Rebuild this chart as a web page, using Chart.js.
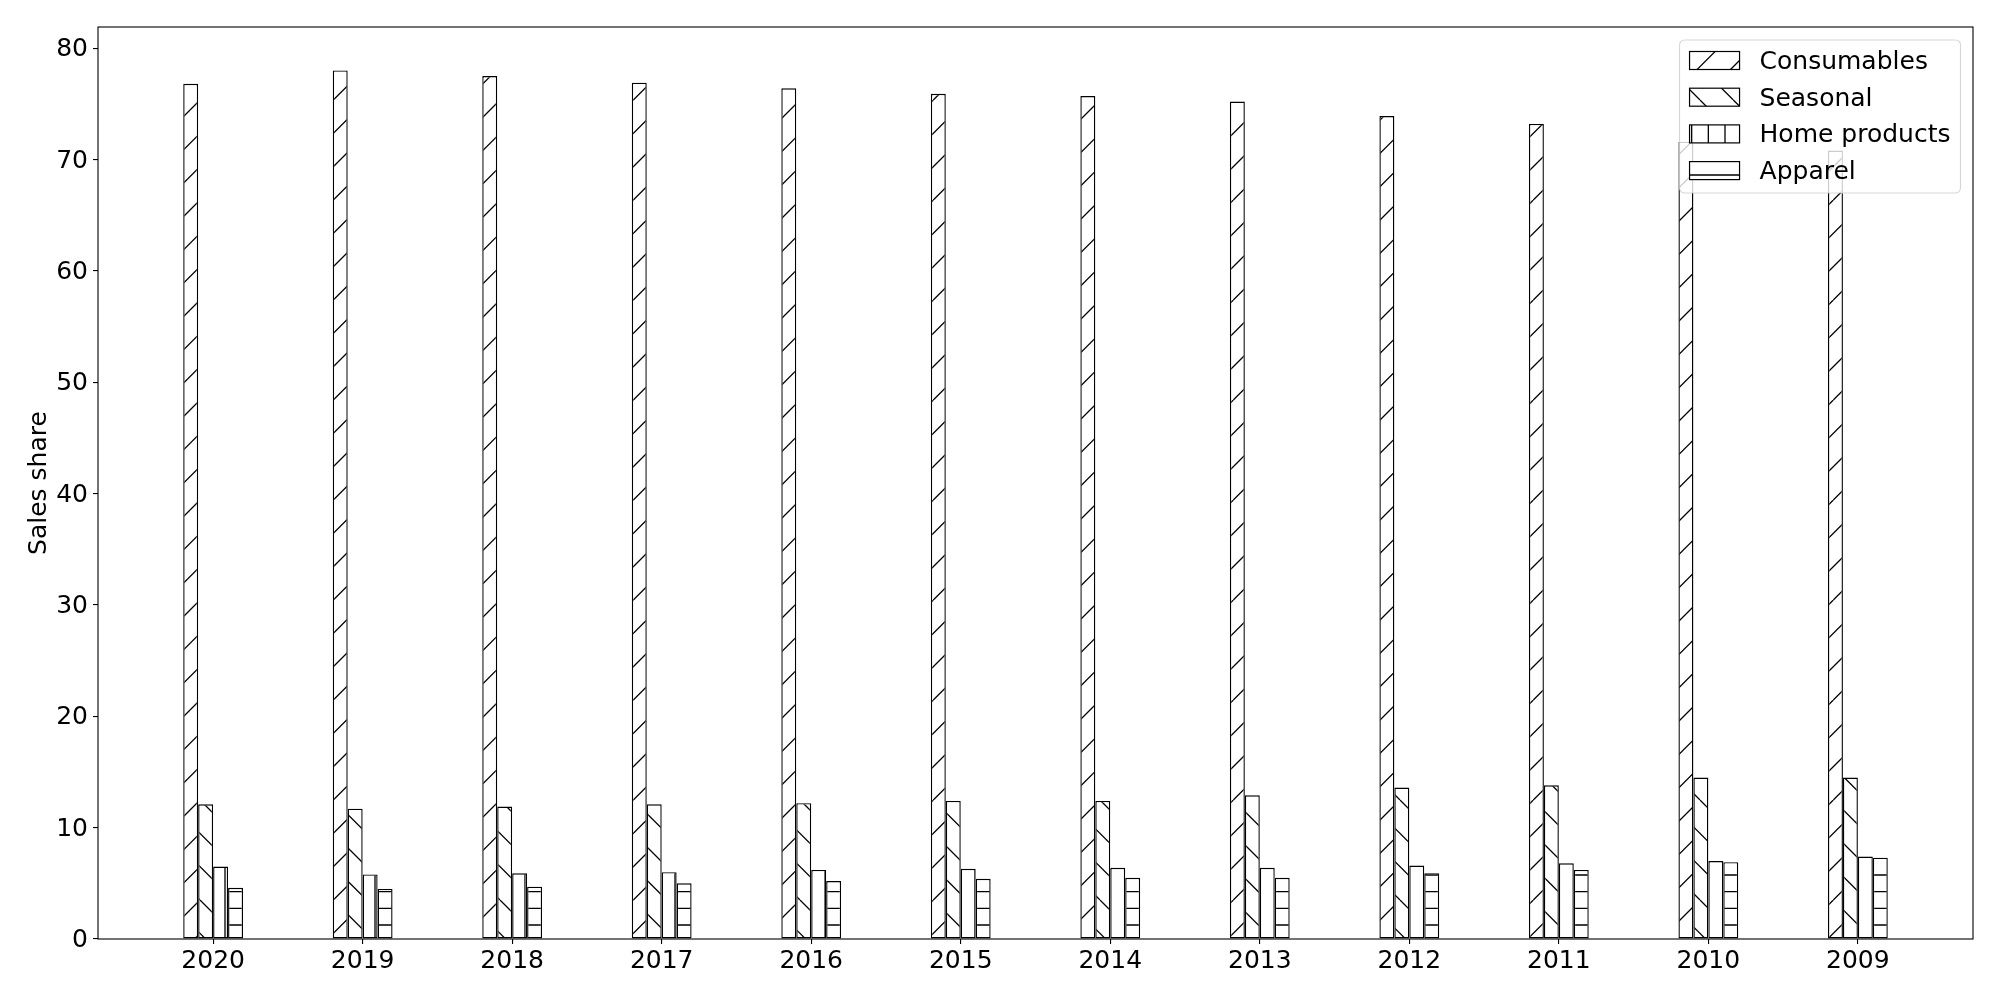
<!DOCTYPE html>
<html><head><meta charset="utf-8">
<script src="https://cdn.jsdelivr.net/npm/chart.js@4/dist/chart.umd.min.js"></script>
<style>html,body{margin:0;padding:0;background:#fff}#wrap{width:2000px;height:1000px}</style>
</head><body><div id="wrap"><canvas id="c" width="2000" height="1000"></canvas></div>
<script>
const years = ['2020','2019','2018','2017','2016','2015','2014','2013','2012','2011','2010','2009'];
const consumables = [76.8,78.0,77.5,76.9,76.4,75.9,75.7,75.2,73.9,73.2,71.6,70.8];
const seasonal = [12.1,11.7,11.9,12.1,12.2,12.4,12.4,12.9,13.6,13.8,14.5,14.5];
const homeProducts = [6.5,5.8,5.9,6.0,6.2,6.3,6.4,6.4,6.6,6.8,7.0,7.4];
const apparel = [4.6,4.5,4.7,5.0,5.2,5.4,5.5,5.5,5.9,6.2,6.9,7.3];
const seriesNames = ['Consumables','Seasonal','Home products','Apparel'];
const hatchKinds = ['/', '\\', '|', '-'];
const yTicks = [0,10,20,30,40,50,60,70,80];
const yAxisTitle = 'Sales share';

const FONT = {family: '"DejaVu Sans"', size: 25, lineHeight: 1.2};
Chart.defaults.font.family = '"DejaVu Sans"';
Chart.defaults.font.size = 25;
Chart.defaults.color = '#000';

function makeHatch(kind) {
  const t = document.createElement('canvas');
  t.width = 100; t.height = 100;
  const g = t.getContext('2d');
  g.fillStyle = '#fff'; g.fillRect(0, 0, 100, 100);
  g.strokeStyle = '#000'; g.lineWidth = 1.3;
  g.beginPath();
  const d = 100 / 3, s = 100 / 6;
  if (kind === '/') {
    for (let k = -3; k <= 9; k++) { const c = k * d; g.moveTo(c, 0); g.lineTo(c - 100, 100); }
  } else if (kind === '\\') {
    for (let k = -6; k <= 6; k++) { const c = k * d; g.moveTo(c, 0); g.lineTo(c + 100, 100); }
  } else if (kind === '|') {
    for (let k = 0; k < 6; k++) { const x = (k + 0.5) * s; g.moveTo(x, 0); g.lineTo(x, 100); }
  } else {
    for (let k = 0; k < 6; k++) { const y = (k + 0.5) * s; g.moveTo(0, y); g.lineTo(100, y); }
  }
  g.stroke();
  return document.getElementById('c').getContext('2d').createPattern(t, 'repeat');
}

const patterns = hatchKinds.map(makeHatch);
const seriesValues = [consumables, seasonal, homeProducts, apparel];

const datasets = seriesNames.map((name, si) => ({
  label: name,
  data: seriesValues[si].map((v, i) => ({x: i, y: v})),
  backgroundColor: patterns[si],
  borderColor: '#000',
  borderWidth: 1.4,
  borderSkipped: false,
  categoryPercentage: 0.4,
  barPercentage: 1.0
}));

const frameBox = {
  id: 'frameBox',
  afterDatasetsDraw(chart) {
    const {ctx, chartArea: a} = chart;
    ctx.save();
    ctx.strokeStyle = '#000';
    ctx.lineWidth = 1.1;
    ctx.strokeRect(a.left, a.top, a.right - a.left, a.bottom - a.top);
    ctx.restore();
  }
};

const mplLegend = {
  id: 'mplLegend',
  afterDraw(chart) {
    const {ctx, chartArea: a} = chart;
    const ds = chart.data.datasets;
    ctx.save();
    ctx.font = '25px "DejaVu Sans"';
    let maxW = 0;
    ds.forEach(d => { maxW = Math.max(maxW, ctx.measureText(d.label).width); });
    const pad = 10, handleW = 50, handleH = 18, textPad = 20, pitch = 36.7;
    const w = pad + handleW + textPad + maxW + pad;
    const h = 153;
    const right = a.right - 12.5, top = a.top + 13;
    const left = right - w;
    const r = 5;
    ctx.beginPath();
    ctx.moveTo(left + r, top);
    ctx.lineTo(right - r, top);
    ctx.arcTo(right, top, right, top + r, r);
    ctx.lineTo(right, top + h - r);
    ctx.arcTo(right, top + h, right - r, top + h, r);
    ctx.lineTo(left + r, top + h);
    ctx.arcTo(left, top + h, left, top + h - r, r);
    ctx.lineTo(left, top + r);
    ctx.arcTo(left, top, left + r, top, r);
    ctx.closePath();
    ctx.fillStyle = 'rgba(255,255,255,0.8)';
    ctx.fill();
    ctx.strokeStyle = 'rgba(204,204,204,0.8)';
    ctx.lineWidth = 1.1;
    ctx.stroke();
    ds.forEach((d, i) => {
      const cy = top + 20.5 + i * pitch;
      const hx = left + pad, hy = cy - handleH / 2;
      ctx.fillStyle = d.backgroundColor;
      ctx.fillRect(hx, hy, handleW, handleH);
      ctx.strokeStyle = '#000';
      ctx.lineWidth = 1.2;
      ctx.strokeRect(hx, hy, handleW, handleH);
      ctx.fillStyle = '#000';
      ctx.textBaseline = 'middle';
      ctx.textAlign = 'left';
      ctx.fillText(d.label, hx + handleW + textPad, cy + 1.8);
    });
    ctx.restore();
  }
};

new Chart(document.getElementById('c'), {
  type: 'bar',
  data: {datasets},
  options: {
    responsive: false,
    animation: false,
    devicePixelRatio: 1,
    layout: {padding: {top: 27, right: 27, left: 0, bottom: 0}},
    plugins: {legend: {display: false}, tooltip: {enabled: false}},
    scales: {
      x: {
        type: 'linear',
        min: -0.77,
        max: 11.77,
        offset: false,
        afterBuildTicks: axis => { axis.ticks = years.map((_, i) => ({value: i})); },
        afterFit: s => { s.height = 61; },
        ticks: {
          callback: v => years[Math.round(v)],
          font: FONT, color: '#000', padding: 2, maxRotation: 0, autoSkip: false
        },
        grid: {offset: false, drawOnChartArea: false, drawTicks: true, tickLength: 5, color: '#000', lineWidth: 1.1},
        border: {display: false}
      },
      y: {
        min: 0,
        max: 81.9,
        afterBuildTicks: axis => { axis.ticks = yTicks.map(v => ({value: v})); },
        afterFit: s => { s.width = 98; },
        ticks: {font: FONT, color: '#000', padding: 5, labelOffset: 1.5},
        grid: {drawOnChartArea: false, drawTicks: true, tickLength: 5, color: '#000', lineWidth: 1.1},
        border: {display: false},
        title: {display: true, text: yAxisTitle, font: FONT, color: '#000', padding: {top: 24, bottom: 0}}
      }
    }
  },
  plugins: [frameBox, mplLegend]
});
</script>
</body></html>
